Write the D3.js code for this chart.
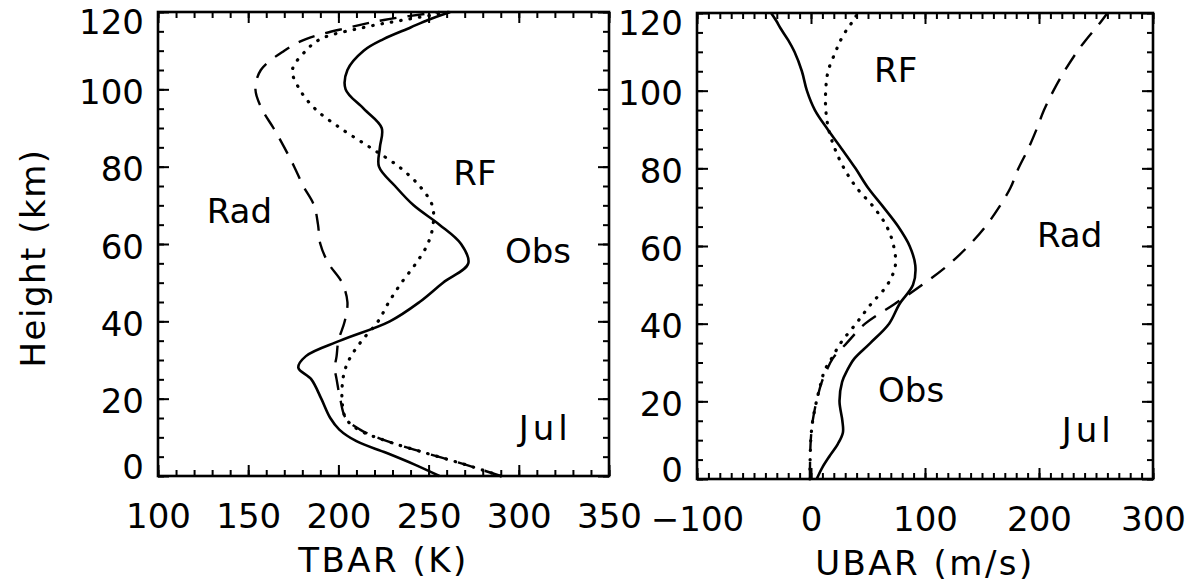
<!DOCTYPE html>
<html>
<head>
<meta charset="utf-8">
<script src="https://cdn.jsdelivr.net/npm/d3@7"></script>
<style>
  body { margin: 0; background: #fff; }
  text { font-family: "DejaVu Sans", sans-serif; fill: #000; }
</style>
</head>
<body>
<svg width="1194" height="586"></svg>
<script>
// heights shared by every profile (km)
const heights = [0, 3, 6, 9, 12, 15, 20, 25, 28, 31, 35, 40, 45, 50, 55, 60, 65, 70, 75, 80, 85, 90, 95, 100, 105, 110, 113, 116, 118, 120];

// TBAR (K)
const tbarObs = [256, 242, 226.5, 210, 200.5, 195.5, 190.5, 185, 177.8, 182, 201, 228.5, 245, 258, 272, 268, 256, 241.7, 231.4, 222.5, 223, 224, 214, 204, 205, 214, 225, 240, 250, 262];
const tbarRad = [290, 270, 248, 227, 212, 204, 201, 199, 198, 199, 200, 203.5, 205, 202, 194.5, 190, 188.7, 186.5, 180.5, 175.5, 170, 164, 157.5, 154, 157, 170, 182, 206, 226, 256];
const tbarRF  = [290, 270, 248, 227, 211, 204, 202, 202.5, 204, 207, 213, 222, 228, 235, 243, 249.5, 252.5, 252, 245, 233.5, 217.5, 201, 187, 178.5, 174.5, 182, 190, 214, 237, 262];

// UBAR (m/s)
const ubarObs = [5, 10, 16.5, 23.5, 28, 27.5, 25, 27.3, 31.8, 38, 52, 68.5, 77.5, 89.5, 91.5, 86.5, 76.5, 63.5, 50, 39, 27, 14.7, 3.4, -3.6, -8, -14.5, -20, -26.6, -30.5, -35];
const ubarRad = [-1, -0.9, -0.7, -0.4, 0.3, 1.5, 4.8, 9.5, 13.8, 19, 31.3, 47.5, 73, 97.6, 120, 138, 153, 165, 175, 182, 190.5, 197.8, 204.4, 212.7, 222.3, 233.3, 241, 249.5, 255, 260];
const ubarRF  = [-1, -0.9, -0.7, -0.4, 0.3, 1.5, 4.8, 9, 12, 18, 26, 39.5, 52.5, 67, 74, 72.5, 66.5, 55, 40, 29, 21, 15.5, 13, 12.9, 15, 21.5, 26, 32, 37, 41];

// tick values
const tbarTicks = [100, 150, 200, 250, 300, 350];
const ubarTicks = [-100, 0, 100, 200, 300];
const heightTicks = [0, 20, 40, 60, 80, 100, 120];

// curve labels, in data units
const tbarNotes = [
    { text: 'Rad', v: 127, h: 65.4 },
    { text: 'RF', v: 263.7, h: 75.2 },
    { text: 'Obs', v: 292.3, h: 55.1 },
    { text: 'Jul', v: 300, h: 9.3 }
];
const ubarNotes = [
    { text: 'RF', v: 55.3, h: 102.2 },
    { text: 'Rad', v: 198.2, h: 59.7 },
    { text: 'Obs', v: 58.8, h: 19.9 },
    { text: 'Jul', v: 219.9, h: 9.6 }
];

const styles = {
    obs: { dash: null, width: 2.6, cap: 'butt' },
    rad: { dash: '17,11', width: 2.4, cap: 'butt' },
    rf: { dash: '0.5,9', width: 3.2, cap: 'round' }
};

const svg = d3.select('svg');

function drawPanel(p) {
    const x = d3.scaleLinear().domain(p.domain).range([p.left, p.right]);
    const y = d3.scaleLinear().domain([0, 120]).range([p.bottom, p.top]);
    const g = svg.append('g');

    const minorX = d3.range(p.domain[0], p.domain[1] + 0.001, 10);
    const minorY = d3.range(0, 120.001, 5);
    const noDomain = a => a.select('.domain').remove();

    // ticks point inward on all four sides
    const axes = [
        [d3.axisBottom, x, `translate(0,${p.bottom})`],
        [d3.axisTop, x, `translate(0,${p.top})`],
        [d3.axisLeft, y, `translate(${p.left},0)`],
        [d3.axisRight, y, `translate(${p.right},0)`]
    ];
    axes.forEach(([maker, sc, tr], i) => {
        const minor = i < 2 ? minorX : minorY;
        const major = i < 2 ? p.ticks : heightTicks;
        g.append('g').attr('transform', tr)
            .call(maker(sc).tickValues(minor).tickSize(-6).tickFormat(''))
            .call(noDomain);
        g.append('g').attr('transform', tr)
            .call(maker(sc).tickValues(major).tickSize(-11).tickFormat(''))
            .call(noDomain);
    });
    g.selectAll('.tick line').attr('stroke', '#000').attr('stroke-width', 2);

    // tick labels
    const xl = g.append('g').attr('transform', `translate(0,${p.bottom})`)
        .call(d3.axisBottom(x).tickValues(p.ticks).tickSize(0).tickFormat(d3.format('')))
        .call(noDomain);
    xl.selectAll('text').attr('y', 52).attr('dy', 0).style('font-size', '34px');

    const yl = g.append('g').attr('transform', `translate(${p.left},0)`)
        .call(d3.axisLeft(y).tickValues(heightTicks).tickSize(0))
        .call(noDomain);
    yl.selectAll('text')
        .attr('x', -14)
        .attr('dy', d => d === 120 ? '0.62em' : d === 0 ? '0.06em' : '0.42em')
        .style('font-size', '34px');

    // frame
    g.append('rect')
        .attr('x', p.left).attr('y', p.top)
        .attr('width', p.right - p.left).attr('height', p.bottom - p.top)
        .attr('fill', 'none').attr('stroke', '#000').attr('stroke-width', 2.6);

    // profiles
    const line = d3.line()
        .x(d => x(d[0]))
        .y(d => y(d[1]))
        .curve(d3.curveCatmullRom.alpha(0.5));

    p.series.forEach(s => {
        const st = styles[s.kind];
        g.append('path')
            .datum(d3.zip(s.values, heights))
            .attr('d', line)
            .attr('fill', 'none')
            .attr('stroke', '#000')
            .attr('stroke-width', st.width)
            .attr('stroke-linecap', st.cap)
            .attr('stroke-dasharray', st.dash);
    });

    g.selectAll('text.note')
        .data(p.notes)
        .enter()
        .append('text')
        .attr('class', 'note')
        .attr('x', d => x(d.v))
        .attr('y', d => y(d.h))
        .style('font-size', '34px')
        .style('letter-spacing', d => d.text === 'Jul' ? '4px' : null) // wide J in the original
        .text(d => d.text);

    g.append('text')
        .attr('x', (p.left + p.right) / 2)
        .attr('y', p.bottom + 96)
        .attr('text-anchor', 'middle')
        .style('font-size', '34px')
        .style('letter-spacing', '2.5px')
        .text(p.title);
}

drawPanel({
    left: 158, right: 609, top: 12, bottom: 476,
    domain: [100, 350], ticks: tbarTicks, title: 'TBAR (K)',
    series: [
        { kind: 'rad', values: tbarRad },
        { kind: 'rf', values: tbarRF },
        { kind: 'obs', values: tbarObs }
    ],
    notes: tbarNotes
});

drawPanel({
    left: 697, right: 1153, top: 13, bottom: 479,
    domain: [-100, 300], ticks: ubarTicks, title: 'UBAR (m/s)',
    series: [
        { kind: 'rad', values: ubarRad },
        { kind: 'rf', values: ubarRF },
        { kind: 'obs', values: ubarObs }
    ],
    notes: ubarNotes
});

svg.append('text')
    .attr('transform', 'translate(45,258) rotate(-90)')
    .attr('text-anchor', 'middle')
    .style('font-size', '34px')
    .style('letter-spacing', '1.5px')
    .text('Height (km)');
</script>
</body>
</html>
